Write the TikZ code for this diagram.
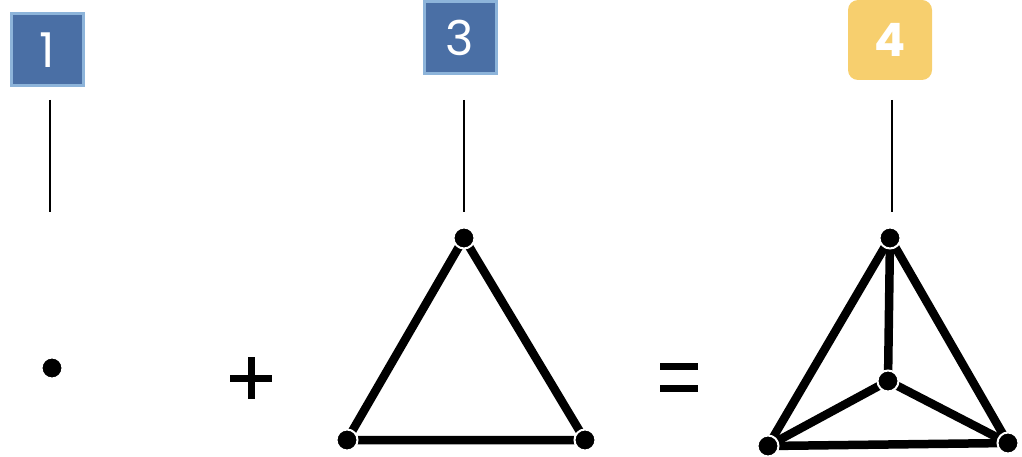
\documentclass[tikz,border=0pt]{standalone}
\usepackage{fontspec}
\setmainfont{Poppins}
\begin{document}
\begin{tikzpicture}[x=1pt,y=-1pt,
  bluebox/.style={fill=blue1, draw=blue2, line width=3pt, minimum width=72pt, minimum height=72pt, text=white, font=\fontsize{48}{50}\selectfont, inner sep=0pt},
  yellowbox/.style={fill=yellow1, rounded corners=10pt, minimum width=84pt, minimum height=80pt, text=white, font=\fontsize{46}{50}\selectfont\bfseries, inner sep=0pt},
  vdot/.style={circle, fill=black, draw=white, line width=2pt, minimum size=21pt, inner sep=0pt},
  edge/.style={line width=8.5pt},
  stem/.style={line width=2.8pt},
  sym/.style={line width=7pt}]
\definecolor{blue1}{HTML}{4A6FA5}
\definecolor{blue2}{HTML}{8DB4DA}
\definecolor{yellow1}{HTML}{F7CF6E}
\useasboundingbox (0,0) rectangle (1022,457);
% boxes
\node[bluebox] (b1) at (47,50) {1};
\node[bluebox] (b3) at (460,38) {3};
\node[yellowbox] (b4) at (890,40) {4};
% stems
\coordinate (s1a) at (50,100); \coordinate (s1b) at (50,212);
\coordinate (s3a) at (464,100); \coordinate (s3b) at (464,212);
\coordinate (s4a) at (892,100); \coordinate (s4b) at (892,212);
\draw[stem] (s1a) -- (s1b);
\draw[stem] (s3a) -- (s3b);
\draw[stem] (s4a) -- (s4b);
% point
\node[vdot] (p) at (52,368) {};
% plus
\coordinate (pl) at (230,378); \coordinate (pr) at (272,378);
\coordinate (pt) at (251,357); \coordinate (pb) at (251,399);
\draw[sym] (pl) -- (pr);
\draw[sym] (pt) -- (pb);
% triangle
\coordinate (ta) at (464,238);
\coordinate (tb) at (347,440);
\coordinate (tc) at (585,440);
\draw[edge] (ta) -- (tb) -- (tc) -- cycle;
\node[vdot] (tA) at (ta) {};
\node[vdot] (tB) at (tb) {};
\node[vdot] (tC) at (tc) {};
% equals
\coordinate (e1l) at (660,366); \coordinate (e1r) at (698,366);
\coordinate (e2l) at (660,388); \coordinate (e2r) at (698,388);
\draw[sym] (e1l) -- (e1r);
\draw[sym] (e2l) -- (e2r);
% tetrahedron
\coordinate (qa) at (890,238);
\coordinate (qb) at (768,446);
\coordinate (qc) at (1008,443);
\coordinate (qd) at (888,381);
\draw[edge] (qa) -- (qb) -- (qc) -- cycle;
\draw[edge] (qa) -- (qd);
\draw[edge] (qb) -- (qd);
\draw[edge] (qc) -- (qd);
\node[vdot] (qA) at (qa) {};
\node[vdot] (qB) at (qb) {};
\node[vdot] (qC) at (qc) {};
\node[vdot] (qD) at (qd) {};
\end{tikzpicture}
\end{document}
